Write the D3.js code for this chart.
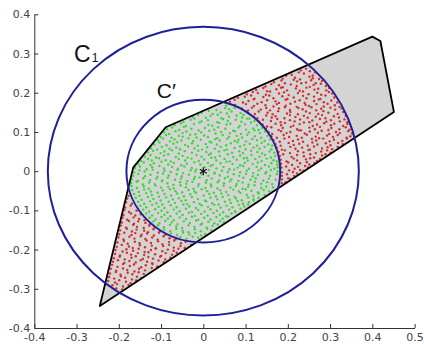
<!DOCTYPE html>
<html><head><meta charset="utf-8">
<script src="https://cdn.jsdelivr.net/npm/d3@7"></script>
<style>html,body{margin:0;padding:0;background:#fff;} svg{display:block;}</style>
</head><body>
<svg id="chart" width="424" height="345"></svg>
<script>
// ---------- data ----------
const xTicks = [-0.4,-0.3,-0.2,-0.1,0,0.1,0.2,0.3,0.4,0.5];
const yTicks = [-0.4,-0.3,-0.2,-0.1,0,0.1,0.2,0.3,0.4];
const polygonX = [-0.245,-0.166,-0.089,0.400,0.419,0.451];
const polygonY = [-0.344,0.009,0.112,0.343,0.332,0.151];
const circleLabels = ["C", "C′"];
const circleRadii = [0.368, 0.182];
const centerPoint = [0, 0];
const labelPos = [[-0.306, 0.278], [-0.11, 0.186]];

const greenPoints = [
[.039,.173],[.054,.167],
[.018,.163],[.031,.156],[.052,.161],[.061,.158],[.074,.161],
[-.004,.149],[.013,.154],[.022,.146],[.041,.15],[.056,.147],[.067,.152],[.088,.148],[.095,.144],
[-.025,.138],[-.012,.143],[.006,.136],[.017,.141],[.034,.144],[.043,.135],[.061,.139],[.079,.142],[.092,.137],[.109,.134],
[-.047,.126],[-.03,.131],[-.021,.134],[-.004,.127],[.011,.13],[.033,.125],[.047,.133],[.058,.128],[.077,.131],[.09,.126],[.104,.134],[.121,.128],
[-.068,.117],[-.053,.122],[-.041,.115],[-.022,.12],[-.009,.124],[.012,.118],[.021,.116],[.038,.123],[.055,.119],[.064,.121],[.086,.115],[.099,.12],[.113,.124],[.127,.117],
[-.086,.107],[-.074,.111],[-.057,.105],[-.046,.113],[-.028,.108],[-.011,.104],[.004,.11],[.026,.106],[.035,.112],[.052,.108],[.071,.103],[.083,.111],[.101,.106],[.118,.109],[.131,.105],[.139,.11],
[-.093,.099],[-.081,.095],[-.066,.102],[-.049,.097],[-.04,.101],[-.019,.094],[-.005,.099],[.014,.103],[.029,.096],[.042,.1],[.063,.097],[.075,.102],[.089,.095],[.108,.099],[.121,.104],[.134,.097],[.146,.101],
[-.101,.087],[-.088,.092],[-.075,.085],[-.058,.09],[-.049,.088],[-.031,.093],[-.016,.086],[.002,.091],[.011,.087],[.033,.084],[.046,.092],[.061,.088],[.079,.09],[.092,.086],[.104,.093],[.122,.089],[.137,.085],[.152,.09],
[-.108,.079],[-.095,.083],[-.079,.076],[-.068,.081],[-.052,.078],[-.035,.084],[-.024,.077],[-.006,.08],[.015,.075],[.028,.082],[.039,.078],[.057,.083],[.074,.077],[.083,.08],[.101,.076],[.116,.082],[.127,.079],[.145,.077],[.158,.081],
[-.116,.068],[-.104,.073],[-.087,.066],[-.071,.07],[-.062,.074],[-.043,.067],[-.027,.071],[-.013,.065],[.006,.069],[.019,.073],[.032,.068],[.054,.066],[.065,.071],[.081,.074],[.097,.067],[.11,.07],[.127,.065],[.138,.072],[.154,.068],[.163,.065],
[-.124,.058],[-.109,.055],[-.098,.062],[-.08,.057],[-.064,.06],[-.055,.056],[-.036,.063],[-.021,.058],[-.003,.055],[.009,.061],[.027,.057],[.041,.062],[.056,.055],[.074,.059],[.087,.063],[.1,.056],[.119,.06],[.133,.057],[.145,.062],[.161,.056],
[-.131,.048],[-.119,.052],[-.101,.046],[-.092,.05],[-.074,.053],[-.058,.045],[-.044,.051],[-.027,.047],[-.012,.052],[.007,.049],[.018,.045],[.037,.05],[.05,.053],[.068,.047],[.085,.051],[.094,.046],[.113,.052],[.128,.049],[.139,.045],[.157,.05],[.168,.047],
[-.139,.037],[-.125,.041],[-.112,.035],[-.093,.04],[-.083,.043],[-.065,.036],[-.049,.039],[-.037,.034],[-.016,.041],[-.004,.037],[.013,.042],[.028,.035],[.039,.039],[.058,.043],[.071,.036],[.087,.04],[.103,.034],[.114,.041],[.133,.037],[.146,.042],[.16,.035],[.17,.039],
[-.147,.026],[-.131,.031],[-.122,.027],[-.105,.033],[-.089,.028],[-.077,.025],[-.058,.031],[-.043,.027],[-.028,.032],[-.011,.026],[.002,.03],[.019,.034],[.031,.027],[.05,.031],[.063,.025],[.079,.029],[.096,.033],[.105,.027],[.123,.031],[.138,.026],[.15,.032],[.166,.028],[.174,.025],
[-.154,.018],[-.141,.022],[-.125,.016],[-.117,.02],[-.099,.024],[-.083,.017],[-.07,.021],[-.052,.015],[-.039,.019],[-.021,.023],[-.007,.017],[.011,.021],[.022,.016],[.041,.02],[.055,.024],[.069,.018],[.087,.015],[.098,.021],[.117,.018],[.129,.022],[.146,.016],[.161,.02],[.175,.017],
[-.162,.008],[-.15,.012],[-.134,.005],[-.121,.01],[-.104,.013],[-.093,.007],[-.074,.011],[-.06,.006],[-.045,.012],[-.027,.008],[-.017,.004],[.003,.01],[.017,.013],[.031,.007],[.048,.011],[.062,.005],[.081,.009],[.094,.013],[.108,.006],[.126,.011],[.137,.007],[.155,.012],[.168,.006],[.176,.01],
[-.164,-.003],[-.151,.002],[-.139,-.001],[-.12,.004],[-.108,-.004],[-.092,.001],[-.077,-.002],[-.061,.003],[-.048,-.005],[-.03,.002],[-.019,-.001],[.013,.003],[.026,-.004],[.044,.001],[.058,-.002],[.073,.004],[.087,-.003],[.103,.001],[.118,-.005],[.131,.002],[.149,-.002],[.16,.003],[.176,-.001],
[-.166,-.012],[-.154,-.007],[-.138,-.013],[-.125,-.009],[-.109,-.014],[-.095,-.006],[-.082,-.011],[-.063,-.008],[-.051,-.013],[-.034,-.009],[-.02,-.015],[-.004,-.008],[.012,-.012],[.027,-.006],[.039,-.011],[.058,-.014],[.072,-.008],[.085,-.012],[.101,-.007],[.117,-.013],[.129,-.01],[.147,-.006],[.158,-.012],[.174,-.008],
[-.169,-.021],[-.155,-.025],[-.142,-.018],[-.126,-.023],[-.111,-.019],[-.097,-.024],[-.084,-.017],[-.067,-.022],[-.053,-.019],[-.038,-.025],[-.022,-.02],[-.009,-.016],[.008,-.023],[.02,-.019],[.037,-.024],[.051,-.018],[.066,-.021],[.083,-.025],[.095,-.017],[.112,-.022],[.124,-.018],[.142,-.024],[.155,-.019],[.171,-.022],
[-.171,-.031],[-.158,-.027],[-.143,-.034],[-.128,-.029],[-.115,-.033],[-.098,-.026],[-.085,-.031],[-.071,-.035],[-.055,-.028],[-.04,-.032],[-.026,-.027],[-.011,-.033],[.006,-.029],[.018,-.034],[.034,-.028],[.049,-.031],[.063,-.026],[.079,-.033],[.093,-.029],[.107,-.034],[.122,-.027],[.137,-.032],[.151,-.028],[.163,-.033],
[-.17,-.038],[-.157,-.043],[-.141,-.039],[-.129,-.045],[-.113,-.037],[-.1,-.042],[-.083,-.04],[-.07,-.044],[-.054,-.036],[-.041,-.041],[-.023,-.045],[-.012,-.038],[.005,-.043],[.019,-.039],[.033,-.044],[.048,-.037],[.064,-.042],[.077,-.038],[.093,-.045],[.106,-.04],[.121,-.036],[.137,-.043],[.149,-.039],[.165,-.041],
[-.168,-.048],[-.153,-.053],[-.14,-.047],[-.124,-.052],[-.108,-.055],[-.096,-.049],[-.079,-.046],[-.066,-.051],[-.05,-.054],[-.035,-.048],[-.021,-.052],[-.004,-.046],[.009,-.051],[.025,-.055],[.04,-.049],[.054,-.053],[.071,-.047],[.084,-.052],[.1,-.046],[.114,-.05],[.129,-.054],[.143,-.048],[.156,-.051],
[-.164,-.058],[-.151,-.063],[-.135,-.056],[-.122,-.061],[-.105,-.065],[-.092,-.058],[-.076,-.062],[-.062,-.057],[-.046,-.064],[-.031,-.059],[-.017,-.055],[.001,-.062],[.014,-.058],[.03,-.064],[.043,-.057],[.059,-.061],[.074,-.065],[.088,-.056],[.103,-.06],[.118,-.063],[.131,-.057],[.145,-.061],
[-.16,-.068],[-.146,-.073],[-.131,-.066],[-.118,-.071],[-.101,-.075],[-.088,-.067],[-.072,-.072],[-.058,-.069],[-.042,-.074],[-.027,-.066],[-.013,-.071],[.004,-.075],[.017,-.068],[.033,-.072],[.046,-.066],[.062,-.073],[.077,-.069],[.091,-.074],[.106,-.067],[.119,-.071],[.131,-.068],
[-.154,-.078],[-.14,-.083],[-.126,-.077],[-.111,-.082],[-.097,-.085],[-.082,-.078],[-.067,-.081],[-.052,-.076],[-.038,-.084],[-.022,-.079],[-.009,-.083],[.007,-.077],[.021,-.082],[.036,-.085],[.051,-.078],[.065,-.081],[.081,-.076],[.094,-.083],[.108,-.079],[.119,-.075],
[-.149,-.088],[-.135,-.092],[-.121,-.086],[-.106,-.091],[-.092,-.094],[-.077,-.087],[-.063,-.092],[-.047,-.085],[-.033,-.09],[-.018,-.094],[-.004,-.087],[.011,-.091],[.026,-.086],[.041,-.093],[.055,-.088],[.069,-.092],[.084,-.086],[.097,-.09],[.106,-.085],
[-.142,-.098],[-.128,-.103],[-.114,-.097],[-.099,-.101],[-.085,-.105],[-.07,-.098],[-.056,-.102],[-.041,-.096],[-.027,-.104],[-.012,-.099],[.003,-.103],[.017,-.097],[.032,-.101],[.047,-.105],[.061,-.098],[.075,-.102],[.088,-.096],
[-.135,-.108],[-.121,-.113],[-.107,-.107],[-.092,-.111],[-.078,-.115],[-.063,-.108],[-.049,-.112],[-.034,-.106],[-.02,-.114],[-.005,-.109],[.01,-.113],[.024,-.107],[.039,-.111],[.054,-.115],[.067,-.108],[.076,-.104],
[-.127,-.119],[-.113,-.123],[-.099,-.117],[-.084,-.121],[-.07,-.125],[-.056,-.118],[-.041,-.122],[-.027,-.116],[-.012,-.124],[.002,-.119],[.017,-.123],[.031,-.117],[.046,-.121],[.059,-.116],
[-.118,-.128],[-.104,-.133],[-.09,-.127],[-.075,-.131],[-.061,-.135],[-.046,-.128],[-.032,-.132],[-.017,-.126],[-.003,-.134],[.012,-.129],[.026,-.133],[.04,-.127],[.049,-.131],
[-.107,-.138],[-.093,-.143],[-.079,-.137],[-.064,-.141],[-.05,-.145],[-.035,-.138],[-.021,-.142],[-.006,-.136],[.008,-.144],[.022,-.139],[.034,-.136],
[-.093,-.149],[-.078,-.153],[-.064,-.147],[-.049,-.152],[-.035,-.156],[-.02,-.148],[-.006,-.153],[.009,-.147],[.019,-.151],
[-.077,-.159],[-.062,-.163],[-.048,-.157],[-.033,-.162],[-.019,-.158],[-.005,-.164],[.004,-.16],
[-.054,-.168],[-.04,-.172],[-.025,-.167],[-.012,-.17]
];

const redPoints = [
[.231,.257],[.243,.261],[.252,.255],
[.209,.246],[.226,.252],[.238,.249],[.259,.244],[.265,.252],
[.188,.236],[.196,.243],[.217,.238],[.229,.234],[.251,.241],[.259,.237],[.274,.235],
[.167,.227],[.185,.231],[.193,.224],[.214,.233],[.222,.229],[.243,.226],[.255,.232],[.266,.224],[.281,.23],
[.147,.216],[.161,.222],[.179,.219],[.188,.214],[.207,.221],[.221,.217],[.232,.224],[.252,.215],[.261,.22],[.278,.223],[.29,.217],
[.125,.207],[.142,.212],[.151,.204],[.173,.209],[.184,.213],[.198,.206],[.219,.211],[.228,.205],[.244,.213],[.263,.208],[.272,.21],[.291,.206],[.298,.212],
[.103,.196],[.117,.202],[.129,.199],[.148,.195],[.158,.203],[.179,.198],[.191,.201],[.202,.194],[.224,.199],[.236,.203],[.249,.196],[.27,.2],[.279,.195],[.297,.202],[.305,.198],
[.082,.187],[.098,.19],[.113,.193],[.121,.185],[.142,.189],[.156,.193],[.166,.186],[.187,.191],[.199,.184],[.214,.188],[.236,.192],[.244,.186],[.262,.19],[.277,.184],[.289,.193],[.31,.188],
[.063,.177],[.074,.182],[.094,.175],[.107,.179],[.119,.183],[.138,.176],[.151,.181],[.171,.178],[.179,.174],[.195,.182],[.217,.177],[.228,.181],[.24,.174],[.262,.179],[.273,.183],[.285,.176],[.303,.18],[.317,.175],
[.075,.169],[.082,.164],[.101,.171],[.12,.166],[.128,.172],[.147,.168],[.166,.165],[.174,.171],[.195,.167],[.206,.172],[.221,.164],[.242,.169],[.25,.166],[.268,.171],[.285,.165],[.294,.172],[.311,.168],[.322,.164],
[.091,.16],[.106,.155],[.115,.162],[.136,.157],[.149,.161],[.158,.155],[.179,.16],[.193,.163],[.205,.156],[.225,.161],[.235,.158],[.256,.163],[.267,.155],[.279,.159],[.301,.162],[.312,.157],[.327,.16],
[.104,.15],[.122,.146],[.131,.152],[.152,.149],[.164,.145],[.177,.153],[.198,.147],[.206,.151],[.224,.145],[.243,.152],[.252,.148],[.272,.146],[.284,.153],[.296,.149],[.318,.146],[.331,.151],
[.12,.139],[.128,.135],[.149,.142],[.162,.137],[.171,.14],[.192,.135],[.205,.143],[.218,.138],[.238,.141],[.247,.136],[.266,.139],[.281,.143],[.289,.135],[.309,.14],[.321,.137],[.337,.141],
[.132,.126],[.141,.131],[.16,.128],[.175,.133],[.183,.125],[.205,.13],[.216,.127],[.229,.132],[.251,.125],[.258,.129],[.276,.133],[.291,.126],[.302,.13],[.323,.127],[.334,.132],[.341,.125],
[.14,.119],[.151,.114],[.171,.121],[.184,.117],[.193,.123],[.213,.116],[.228,.12],[.238,.124],[.259,.115],[.269,.119],[.286,.122],[.302,.117],[.31,.121],[.331,.115],[.341,.12],
[.148,.108],[.161,.112],[.178,.105],[.188,.11],[.207,.113],[.222,.107],[.231,.104],[.251,.111],[.264,.107],[.276,.113],[.296,.105],[.303,.11],[.322,.107],[.337,.112],[.346,.106],
[.155,.099],[.163,.095],[.184,.102],[.197,.097],[.206,.1],[.226,.104],[.24,.096],[.252,.101],[.271,.098],[.28,.103],[.298,.095],[.314,.1],[.323,.097],[.343,.102],[.352,.096],
[.161,.089],[.174,.085],[.19,.092],[.203,.087],[.221,.09],[.233,.085],[.245,.093],[.266,.088],[.274,.084],[.293,.091],[.307,.087],[.318,.092],[.339,.085],[.348,.089],
[.166,.079],[.181,.075],[.192,.083],[.212,.077],[.224,.081],[.236,.075],[.257,.082],[.267,.078],[.284,.083],[.299,.076],[.309,.08],[.329,.077],[.34,.083],
[.171,.069],[.183,.065],[.202,.072],[.214,.067],[.227,.07],[.247,.065],[.258,.073],[.27,.068],[.29,.071],[.301,.066],[.319,.072],[.33,.069],
[.174,.06],[.186,.055],[.206,.062],[.218,.057],[.234,.06],[.252,.055],[.262,.063],[.281,.058],[.294,.061],[.305,.056],[.318,.062],
[.178,.049],[.193,.053],[.205,.046],[.224,.051],[.237,.048],[.249,.054],[.266,.046],[.279,.05],[.293,.053],[.301,.047],
[.181,.039],[.189,.043],[.209,.036],[.222,.041],[.238,.038],[.253,.043],[.262,.035],[.281,.04],[.289,.043],
[.183,.029],[.197,.025],[.214,.032],[.222,.027],[.243,.03],[.253,.033],[.269,.026],[.276,.031],
[.184,.019],[.201,.022],[.21,.016],[.229,.02],[.245,.023],[.251,.017],[.263,.021],
[.185,.009],[.196,.012],[.216,.006],[.224,.011],[.241,.013],[.248,.009],
[.186,-.003],[.203,.002],[.212,-.002],[.229,.003],[.237,.001],
[.186,-.012],[.198,-.008],[.215,-.012],[.222,-.006],
[.186,-.021],[.201,-.018],[.206,-.02],
[.186,-.031],[.195,-.028],
[-.177,-.063],
[-.18,-.07],
[-.183,-.079],[-.169,-.083],
[-.185,-.093],[-.172,-.088],
[-.187,-.099],[-.176,-.104],[-.158,-.101],
[-.189,-.112],[-.171,-.108],[-.161,-.113],[-.148,-.11],
[-.191,-.119],[-.18,-.124],[-.165,-.118],[-.152,-.122],[-.139,-.125],
[-.193,-.131],[-.176,-.127],[-.164,-.134],[-.154,-.128],[-.137,-.132],[-.127,-.136],
[-.195,-.139],[-.183,-.144],[-.166,-.137],[-.157,-.142],[-.141,-.145],[-.128,-.139],[-.115,-.143],
[-.197,-.151],[-.181,-.147],[-.169,-.154],[-.158,-.149],[-.14,-.152],[-.131,-.156],[-.118,-.148],[-.103,-.153],
[-.199,-.161],[-.187,-.157],[-.17,-.163],[-.161,-.158],[-.146,-.162],[-.133,-.159],[-.117,-.164],[-.105,-.157],[-.09,-.162],
[-.201,-.169],[-.189,-.174],[-.175,-.167],[-.163,-.172],[-.148,-.166],[-.137,-.173],[-.121,-.169],[-.108,-.175],[-.094,-.166],[-.08,-.171],[-.066,-.174],
[-.203,-.182],[-.188,-.178],[-.179,-.185],[-.162,-.18],[-.151,-.184],[-.134,-.177],[-.124,-.183],[-.107,-.179],[-.097,-.186],[-.081,-.181],[-.069,-.177],[-.053,-.184],[-.042,-.18],[-.029,-.188],
[-.205,-.193],[-.193,-.188],[-.176,-.192],[-.167,-.196],[-.15,-.189],[-.138,-.194],[-.122,-.19],[-.112,-.197],[-.095,-.191],[-.081,-.188],[-.07,-.195],[-.054,-.191],[-.044,-.196],
[-.208,-.201],[-.191,-.205],[-.182,-.199],[-.166,-.203],[-.153,-.198],[-.139,-.206],[-.124,-.201],[-.113,-.197],[-.097,-.204],[-.084,-.2],[-.07,-.203],[-.059,-.198],
[-.209,-.211],[-.197,-.215],[-.181,-.208],[-.171,-.213],[-.155,-.209],[-.14,-.214],[-.13,-.207],[-.114,-.212],[-.1,-.216],[-.089,-.209],[-.074,-.213],[-.063,-.208],
[-.212,-.222],[-.198,-.218],[-.186,-.225],[-.17,-.221],[-.16,-.217],[-.143,-.224],[-.13,-.219],[-.119,-.223],[-.102,-.218],[-.09,-.225],[-.078,-.221],
[-.214,-.231],[-.202,-.227],[-.187,-.234],[-.175,-.229],[-.16,-.233],[-.148,-.227],[-.133,-.231],[-.121,-.235],[-.106,-.228],[-.094,-.232],
[-.216,-.239],[-.203,-.244],[-.19,-.237],[-.174,-.242],[-.164,-.238],[-.147,-.245],[-.136,-.24],[-.12,-.237],[-.109,-.243],
[-.219,-.249],[-.206,-.254],[-.19,-.248],[-.18,-.252],[-.163,-.256],[-.152,-.249],[-.138,-.253],[-.122,-.247],
[-.221,-.261],[-.207,-.257],[-.196,-.264],[-.179,-.259],[-.168,-.263],[-.153,-.258],[-.141,-.262],
[-.223,-.27],[-.211,-.274],[-.195,-.268],[-.185,-.272],[-.169,-.276],[-.157,-.269],[-.147,-.273],
[-.225,-.28],[-.209,-.284],[-.199,-.278],[-.183,-.282],[-.172,-.286],[-.159,-.279],
[-.215,-.291],[-.204,-.288],[-.19,-.294],[-.177,-.29],
[-.206,-.299],[-.192,-.302]
];

// ---------- drawing ----------
const x = d3.scaleLinear().domain([-0.4, 0.5]).range([34.3, 414.6]);
const y = d3.scaleLinear().domain([-0.4, 0.4]).range([328, 14.3]);
const svg = d3.select("#chart");

const poly = polygonX.map((v, i) => [v, polygonY[i]]);
const polyPath = d3.line().x(d => x(d[0])).y(d => y(d[1])).curve(d3.curveLinearClosed);

const defs = svg.append("defs");
defs.append("clipPath").attr("id", "clipPoly").append("path").attr("d", polyPath(poly));
circleRadii.forEach((r, i) => {
  defs.append("clipPath").attr("id", "clipC" + i).append("ellipse")
    .attr("cx", x(centerPoint[0])).attr("cy", y(centerPoint[1]))
    .attr("rx", x(r) - x(0)).attr("ry", y(0) - y(r));
});

// polygon fill
svg.append("path").attr("d", polyPath(poly)).attr("fill", "#d4d4d4").attr("stroke", "none");

// red points (annulus part)
svg.append("g").attr("clip-path", "url(#clipPoly)")
  .append("g").attr("clip-path", "url(#clipC0)")
  .selectAll("circle").data(redPoints).join("circle")
  .attr("cx", d => x(d[0])).attr("cy", d => y(d[1])).attr("r", 1.2)
  .attr("fill", "#dd2a2a");

// green points (inner disc part)
svg.append("g").attr("clip-path", "url(#clipPoly)")
  .append("g").attr("clip-path", "url(#clipC1)")
  .selectAll("circle").data(greenPoints).join("circle")
  .attr("cx", d => x(d[0])).attr("cy", d => y(d[1])).attr("r", 1.2)
  .attr("fill", "#33dd33");

// polygon outline
svg.append("path").attr("d", polyPath(poly)).attr("fill", "none")
  .attr("stroke", "#000").attr("stroke-width", 1.8).attr("stroke-linejoin", "round");

// circles
svg.selectAll("ellipse.circ").data(circleRadii).join("ellipse").attr("class", "circ")
  .attr("cx", x(centerPoint[0])).attr("cy", y(centerPoint[1]))
  .attr("rx", r => x(r) - x(0)).attr("ry", r => y(0) - y(r))
  .attr("fill", "none").attr("stroke", "#1f1f9a").attr("stroke-width", 2);

// centre asterisk
const asterisk = {
  draw(ctx, size) {
    const s = Math.sqrt(size) / 2;
    ctx.moveTo(0, -s); ctx.lineTo(0, s);
    const a = s * Math.cos(Math.PI / 6), b = s * Math.sin(Math.PI / 6);
    ctx.moveTo(-a, -b); ctx.lineTo(a, b);
    ctx.moveTo(-a, b); ctx.lineTo(a, -b);
  }
};
svg.append("path")
  .attr("transform", `translate(${x(centerPoint[0])},${y(centerPoint[1])})`)
  .attr("d", d3.symbol().type(asterisk).size(64)())
  .attr("stroke", "#111").attr("stroke-width", 1.2).attr("fill", "none");

// circle labels
const lab0 = svg.append("text").attr("x", x(labelPos[0][0])).attr("y", y(labelPos[0][1]))
  .attr("font-family", "Liberation Sans, Arial, sans-serif").attr("font-size", 23).attr("fill", "#111");
lab0.append("tspan").text(circleLabels[0]);
lab0.append("tspan").attr("font-size", 12).attr("dx", 1).text("1");
svg.append("text").attr("x", x(labelPos[1][0])).attr("y", y(labelPos[1][1]))
  .attr("font-family", "Liberation Sans, Arial, sans-serif").attr("font-size", 21).attr("fill", "#111")
  .text(circleLabels[1]);

// axes
const fmt = d => d === 0 ? "0" : d.toFixed(1);
const gx = svg.append("g").attr("transform", `translate(0,${y(-0.4)})`)
  .call(d3.axisBottom(x).tickValues(xTicks).tickFormat(fmt).tickSizeInner(-4).tickSizeOuter(0).tickPadding(5.5));
const gy = svg.append("g").attr("transform", `translate(${x(-0.4)},0)`)
  .call(d3.axisLeft(y).tickValues(yTicks).tickFormat(fmt).tickSizeInner(-4).tickSizeOuter(0).tickPadding(4));
[gx, gy].forEach(g => {
  g.select(".domain").attr("stroke", "#333").attr("stroke-width", 1);
  g.selectAll(".tick line").attr("stroke", "#333");
  g.selectAll(".tick text").attr("font-family", "DejaVu Sans, sans-serif").attr("font-size", 11).attr("fill", "#444");
});
</script>
</body></html>
